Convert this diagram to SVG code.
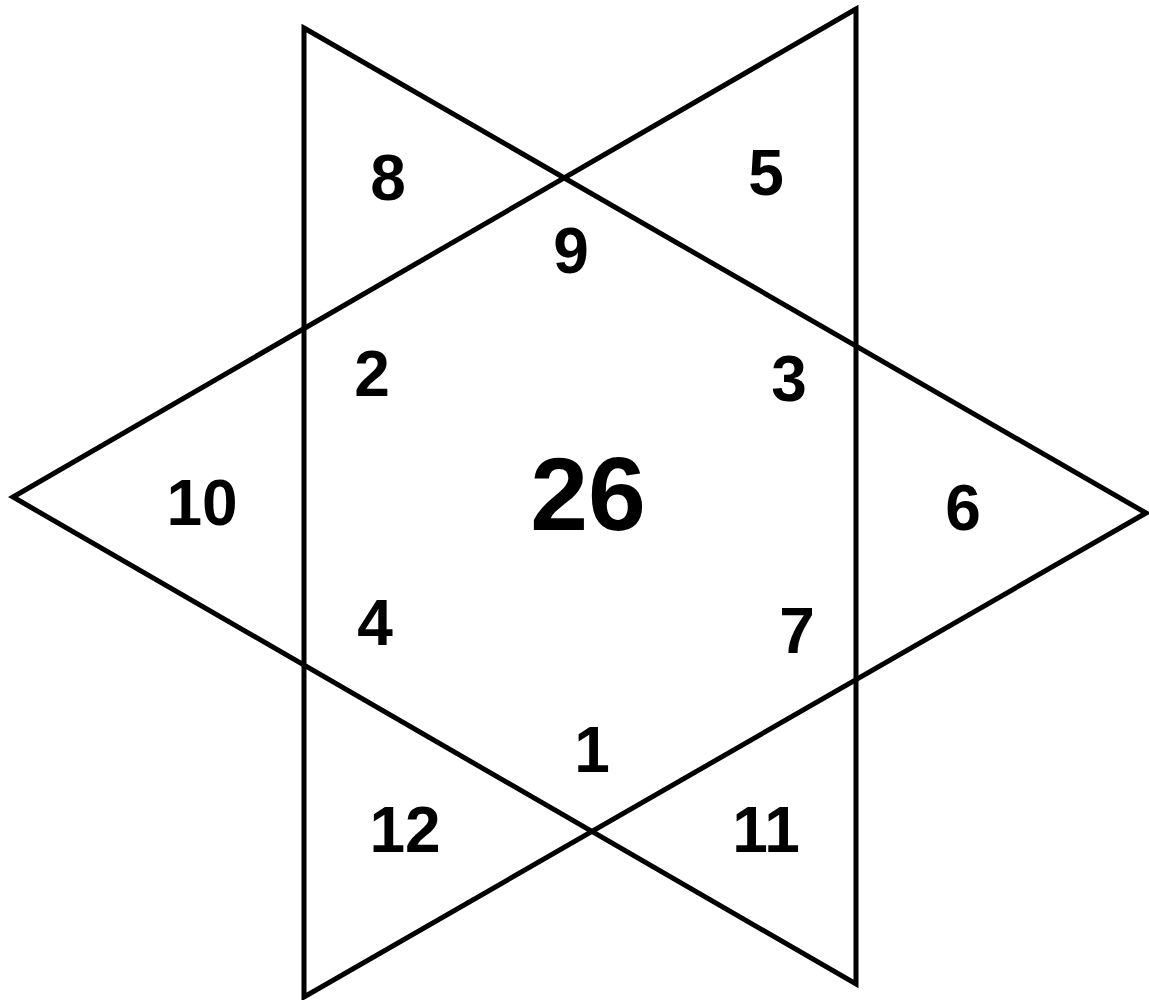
<svg xmlns="http://www.w3.org/2000/svg" width="1149" height="1000" viewBox="0 0 1149 1000">
<style>
.tri{fill:none;stroke:#000;stroke-width:5;stroke-linejoin:miter}
.n{font-family:"Liberation Sans",Arial,sans-serif;font-weight:bold;font-size:64px;text-anchor:middle;fill:#000}
.big{font-size:104px}
</style>
<rect width="1149" height="1000" fill="#fff"/>
<g id="connectors">
<polygon class="tri" points="304,28 1146,513 304,997"/>
<polygon class="tri" points="856,9 13,497 856,984"/>
</g>
<g id="n26"><text class="n big" x="588" y="530">26</text></g>
<g id="n8"><text class="n" x="388" y="200">8</text></g>
<g id="n5"><text class="n" x="766" y="195">5</text></g>
<g id="n9"><text class="n" x="571" y="273">9</text></g>
<g id="n2"><text class="n" x="372" y="396">2</text></g>
<g id="n3"><text class="n" x="789" y="401">3</text></g>
<g id="n10"><text class="n" x="202" y="525">10</text></g>
<g id="n6"><text class="n" x="963" y="530">6</text></g>
<g id="n4"><text class="n" x="375" y="645">4</text></g>
<g id="n7"><text class="n" x="797" y="653">7</text></g>
<g id="n1"><text class="n" x="592" y="772">1</text></g>
<g id="n12"><text class="n" x="405" y="852">12</text></g>
<g id="n11"><text class="n" x="766" y="852">11</text></g>
</svg>
